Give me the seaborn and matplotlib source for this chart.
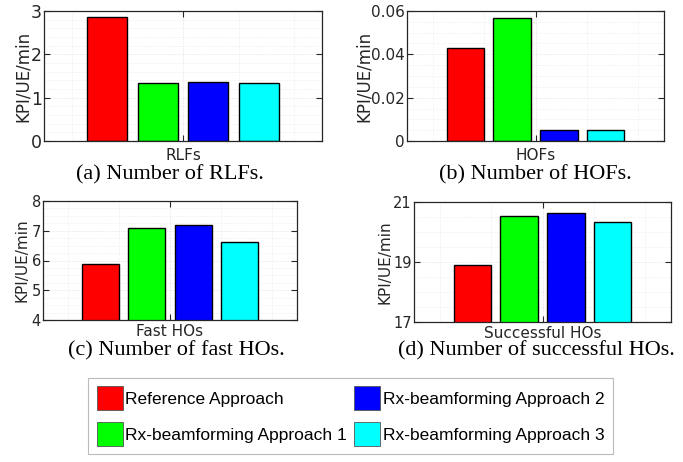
import pandas as pd
import seaborn as sns
import matplotlib.pyplot as plt
from matplotlib.ticker import AutoMinorLocator, MultipleLocator
from matplotlib.patches import Patch

approaches = ['Reference Approach', 'Rx-beamforming Approach 1',
              'Rx-beamforming Approach 2', 'Rx-beamforming Approach 3']
colores = ['#ff0000', '#00ff00', '#0000ff', '#00ffff']

metricas = ['RLFs', 'HOFs', 'Fast HOs', 'Successful HOs']
rlfs = [2.86, 1.35, 1.37, 1.34]
hofs = [0.0428, 0.0568, 0.0051, 0.0049]
fast_hos = [5.87, 7.10, 7.18, 6.61]
succ_hos = [18.91, 20.54, 20.63, 20.34]

titulos = ['(a) Number of RLFs.', '(b) Number of HOFs.',
           '(c) Number of fast HOs.', '(d) Number of successful HOs.']
y_lims = [(0, 3), (0, 0.06), (4, 8), (17, 21)]
y_ticks = [[0, 1, 2, 3], [0, 0.02, 0.04, 0.06], [4, 5, 6, 7, 8], [17, 19, 21]]
y_ticklabels = [['0', '1', '2', '3'], ['0', '0.02', '0.04', '0.06'],
                ['4', '5', '6', '7', '8'], ['17', '19', '21']]

df = pd.DataFrame({
    'metrica': [m for m in metricas for _ in approaches],
    'approach': approaches * 4,
    'valor': rlfs + hofs + fast_hos + succ_hos,
})

W, H = 683, 462
fig = plt.figure(figsize=(W / 100, H / 100), dpi=100)

# posiciones de los ejes en pixeles (izq, arriba, der, abajo)
cajas = [(44, 11, 322, 141), (407, 11, 664, 141),
         (43, 201, 297, 320), (414, 202, 671, 322)]
ylab_x = [-0.044, -0.133, -0.053, -0.082]
tam_ticks = [12.5, 11, 10.5, 10.5]
tam_ylab = [12, 12, 11, 11]
pad_x = [5, 5, 3, 3]
pos_titulos = [(170, 175), (535, 175), (176, 351), (536, 351)]

gris = '#262626'
for i, m in enumerate(metricas):
    l, t, r, b = cajas[i]
    ax = fig.add_axes([l / W, 1 - b / H, (r - l) / W, (b - t) / H])
    sns.barplot(data=df[df.metrica == m], x='metrica', y='valor', hue='approach',
                hue_order=approaches, palette=colores, width=0.727, gap=0.2,
                edgecolor='black', linewidth=1, saturation=1, legend=False, ax=ax)
    ax.set_xlim(-0.5, 0.5)
    ax.set_ylim(*y_lims[i])
    ax.set_yticks(y_ticks[i])
    ax.set_yticklabels(y_ticklabels[i])
    ax.set_xticks([0])
    ax.set_xticklabels([m])
    ax.xaxis.set_minor_locator(MultipleLocator(0.2))
    ax.yaxis.set_minor_locator(AutoMinorLocator(5 if i == 0 else 4))
    ax.set_axisbelow(True)
    ax.grid(True, which='major', color='#dcdcdc', lw=0.6, ls=':')
    ax.grid(True, which='minor', color='#e6e6e6', lw=0.5, ls=':')
    ax.tick_params(which='major', direction='in', length=4, width=0.8,
                   top=True, right=True, colors=gris, labelsize=tam_ticks[i])
    ax.tick_params(axis='x', pad=pad_x[i], labelsize=11)
    ax.tick_params(axis='y', pad=1.5)
    ax.tick_params(which='minor', length=0)
    for s in ax.spines.values():
        s.set_color(gris)
        s.set_linewidth(0.9)
    ax.set_xlabel('')
    ax.set_ylabel('KPI/UE/min', fontsize=tam_ylab[i], color=gris)
    ax.yaxis.set_label_coords(ylab_x[i], 0.5)
    cx, cy = pos_titulos[i]
    fig.text(cx / W, 1 - cy / H, titulos[i], ha='center', va='center',
             fontsize=16, family='Liberation Serif')

handles = [Patch(facecolor=c, edgecolor='#555555', lw=0.6) for c in colores]
leg = fig.legend(handles, approaches,
                 ncol=2, loc='center', bbox_to_anchor=(350.5 / W, 1 - 416 / H),
                 prop={'family': 'Liberation Sans', 'size': 12.5},
                 fancybox=False, edgecolor='#aaaaaa', handlelength=1.5,
                 handleheight=1.72, handletextpad=0.15, columnspacing=0.4,
                 labelspacing=0.7, borderpad=0.5)
leg.get_frame().set_linewidth(0.8)

fig.savefig('out.png', dpi=100)
